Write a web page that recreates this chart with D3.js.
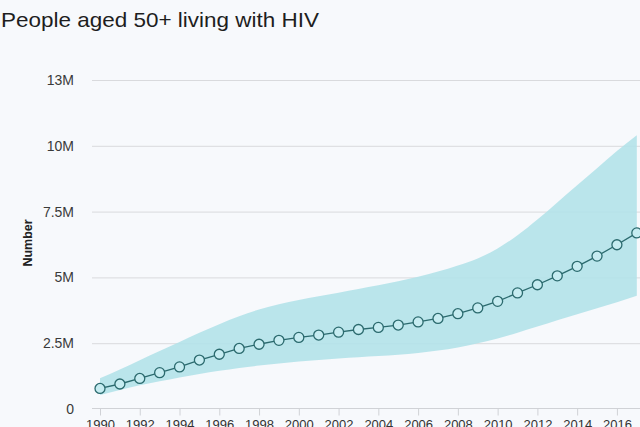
<!DOCTYPE html>
<html>
<head>
<meta charset="utf-8">
<script src="https://cdn.jsdelivr.net/npm/d3@7"></script>
<style>
html,body{margin:0;padding:0;background:#f7f9fc;}
svg{display:block;}
</style>
</head>
<body>
<svg id="chart" width="640" height="427"></svg>
<script>
const years = [1990,1991,1992,1993,1994,1995,1996,1997,1998,1999,2000,2001,2002,2003,2004,2005,2006,2007,2008,2009,2010,2011,2012,2013,2014,2015,2016,2017];
const estimate = [0.78,0.95,1.16,1.38,1.60,1.86,2.08,2.30,2.46,2.61,2.72,2.81,2.92,3.02,3.10,3.19,3.31,3.44,3.62,3.84,4.09,4.41,4.72,5.06,5.42,5.81,6.24,6.69];
const lower = [0.53,0.72,0.90,1.05,1.20,1.33,1.45,1.56,1.65,1.73,1.80,1.86,1.92,1.97,2.01,2.06,2.13,2.22,2.34,2.50,2.68,2.90,3.13,3.37,3.60,3.83,4.06,4.30];
const upper = [1.17,1.50,1.85,2.20,2.55,2.90,3.22,3.52,3.78,3.98,4.14,4.28,4.42,4.56,4.70,4.85,5.02,5.22,5.45,5.72,6.10,6.60,7.20,7.85,8.50,9.15,9.80,10.40];
const yTickValues = [0,2.5,5,7.5,10,12.5];
const yTickLabels = ["0","2.5M","5M","7.5M","10M","13M"];
const xTickValues = [1990,1992,1994,1996,1998,2000,2002,2004,2006,2008,2010,2012,2014,2016];

const svg = d3.select("#chart");
const x = d3.scaleLinear().domain([1990,2017]).range([100,636.8]);
const y = d3.scaleLinear().domain([0,12.5]).range([409,80]);

// title
svg.append("text").attr("x",1).attr("y",27)
  .attr("font-family","Liberation Sans, Arial, sans-serif")
  .attr("font-size",21).attr("fill","#1e1e1e")
  .attr("textLength",318).attr("lengthAdjust","spacingAndGlyphs")
  .text("People aged 50+ living with HIV");

// y axis
const yAxis = d3.axisLeft(y).tickValues(yTickValues)
  .tickFormat((d,i)=>yTickLabels[i]).tickSize(-560).tickPadding(18);
const gy = svg.append("g").attr("transform","translate(92,0)").call(yAxis);
gy.select(".domain").remove();
gy.selectAll(".tick line").attr("stroke","#d9dadd").attr("stroke-width",1);
gy.selectAll(".tick").filter(d=>d===0).select("line").remove();
gy.selectAll(".tick text").attr("font-family","Liberation Sans, Arial, sans-serif")
  .attr("font-size",14).attr("fill","#3a3a3a");

// y title
svg.append("text").attr("transform","translate(32,243) rotate(-90)")
  .attr("text-anchor","middle").attr("font-family","Liberation Sans, Arial, sans-serif")
  .attr("font-size",12.5).attr("font-weight","bold").attr("fill","#222").text("Number");

// x axis
const xAxis = d3.axisBottom(x).tickValues(xTickValues).tickFormat(d3.format("d"))
  .tickSize(7).tickPadding(4).tickSizeOuter(0);
const gx = svg.append("g").attr("transform","translate(0,408.5)").call(xAxis);
gx.select(".domain").attr("d","M92,0H660").attr("stroke","#d0d2d6");
gx.selectAll(".tick line").attr("stroke","#d0d2d6");
gx.selectAll(".tick text").attr("font-family","Liberation Sans, Arial, sans-serif")
  .attr("font-size",13).attr("fill","#333");

// band
const band = d3.area().x((d,i)=>x(years[i])).y0((d,i)=>y(lower[i])).y1((d,i)=>y(upper[i]))
  .curve(d3.curveMonotoneX);
svg.append("path").datum(years).attr("d",band).attr("fill","#b3e2e9").attr("opacity",0.9);

// line
const line = d3.line().x((d,i)=>x(years[i])).y(d=>y(d));
svg.append("path").datum(estimate).attr("d",line).attr("fill","none")
  .attr("stroke","#2b6a6e").attr("stroke-width",1.3);

svg.append("g").selectAll("circle").data(estimate).join("circle")
  .attr("cx",(d,i)=>x(years[i])).attr("cy",d=>y(d)).attr("r",5)
  .attr("fill","#c6ecf1").attr("stroke","#2b6a6e").attr("stroke-width",1.3);
</script>
</body>
</html>
